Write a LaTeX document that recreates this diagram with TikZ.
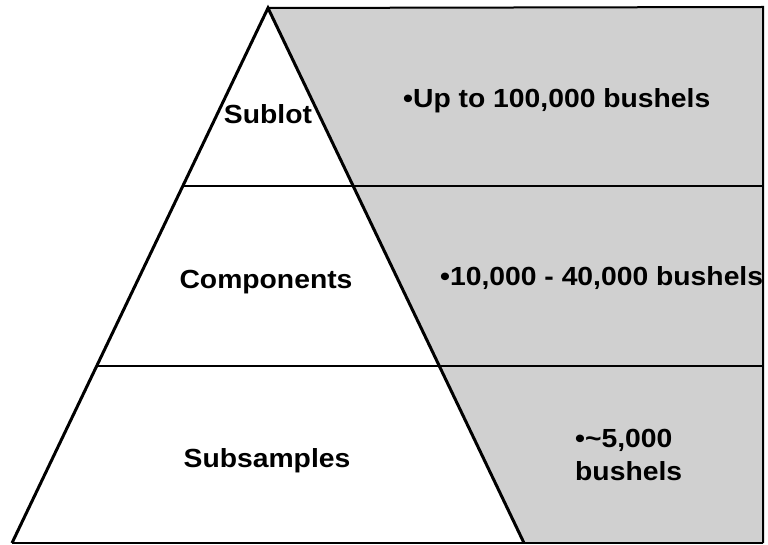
\documentclass[tikz,border=0pt]{standalone}
\usepackage{fontspec}
\setmainfont{Liberation Sans}[FakeStretch=1.08]
\definecolor{boxgray}{RGB}{208,208,208}
\begin{document}
\begin{tikzpicture}[x=1pt,y=-1pt,
  lbl/.style={font=\bfseries\fontsize{26.2}{30}\selectfont, inner sep=0pt},
  side/.style={line width=3pt, line join=miter},
  rule/.style={line width=2.4pt},
  frame/.style={line width=2pt}]
\useasboundingbox (0,0) rectangle (768,545);
% key points
\coordinate (apex) at (268,8);
\coordinate (bl) at (12,543);
\coordinate (br) at (524,543);
\coordinate (tr) at (763,7);
\coordinate (rb) at (763,543);
\coordinate (l1) at (182.8,186);
\coordinate (r1) at (763,186);
\coordinate (l2) at (96.7,366);
\coordinate (r2) at (763,366);
% gray region
\fill[boxgray] (apex) -- (tr) -- (rb) -- (br) -- cycle;
% frame
\draw[frame] (apex) -- (tr) -- (rb);
\draw[frame] (bl) -- (rb);
% horizontal rules
\draw[rule] (l1) -- (r1);
\draw[rule] (l2) -- (r2);
% triangle sides
\draw[side] (bl) -- (apex) -- (br);
% labels
\node[lbl, anchor=base] (sublot) at (268,124) {Sublot};
\node[lbl, anchor=base] (comp) at (266,288) {Components};
\node[lbl, anchor=base] (subs) at (267,467) {Subsamples};
\node[lbl, anchor=base west] (t1) at (403,108) {•Up to 100,000 bushels};
\node[lbl, anchor=base west] (t2) at (440,285) {•10,000 - 40,000 bushels};
\node[lbl, anchor=base west] (t3a) at (575,447) {•\textasciitilde5,000};
\node[lbl, anchor=base west] (t3b) at (575,480) {bushels};
\end{tikzpicture}
\end{document}
